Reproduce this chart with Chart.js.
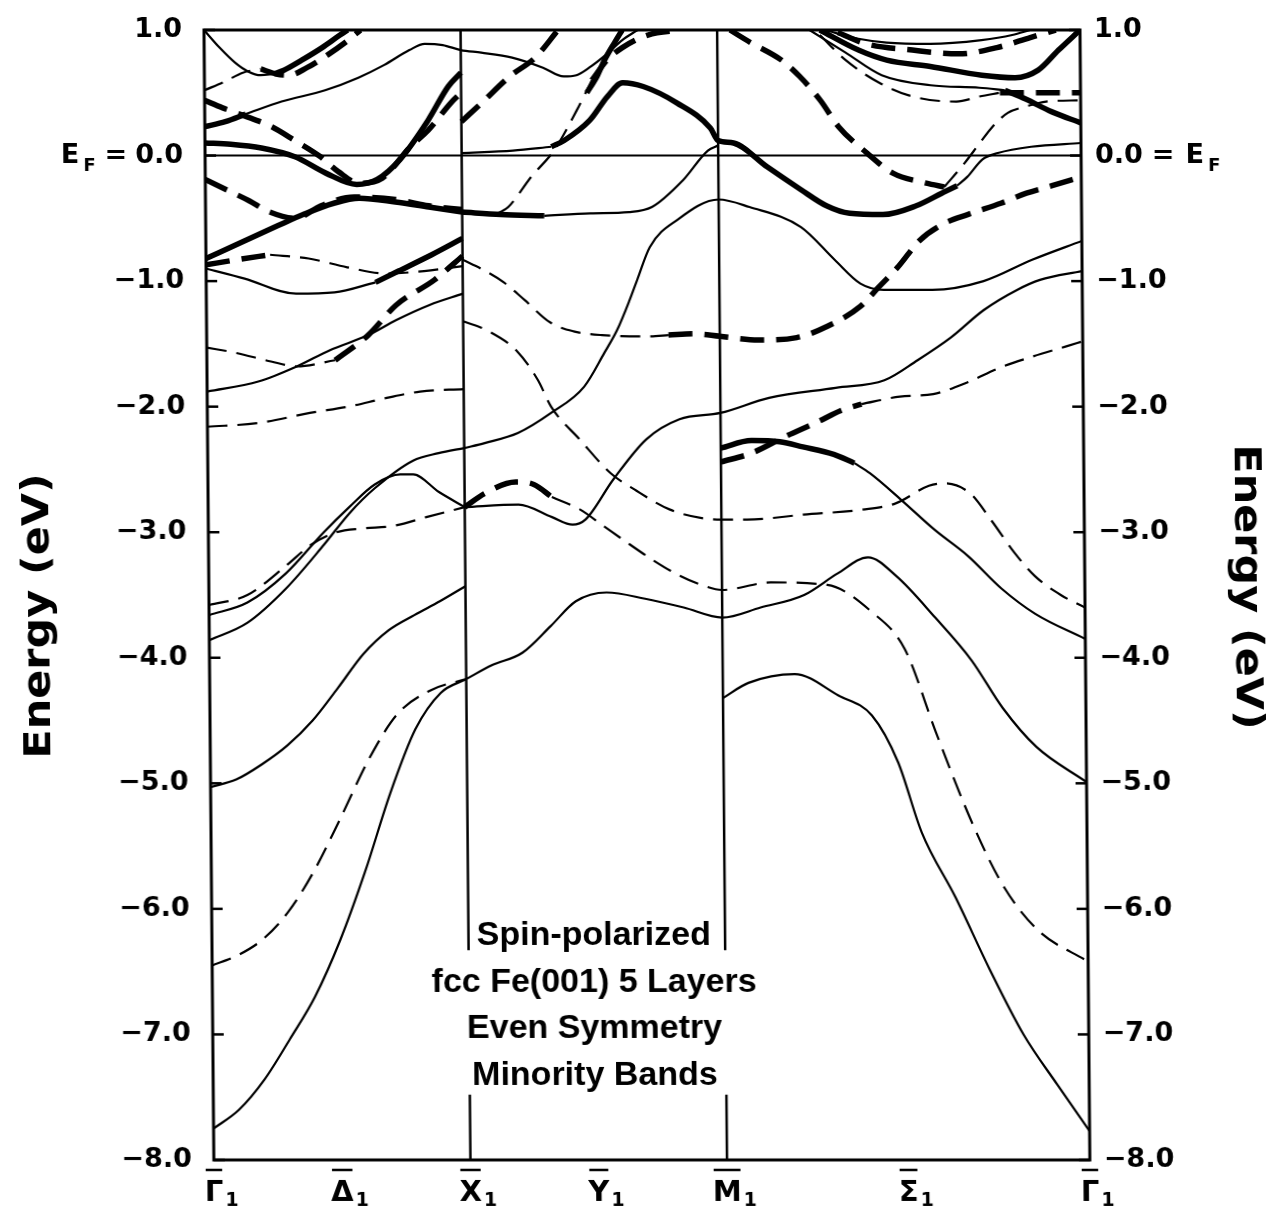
<!DOCTYPE html>
<html lang="en">
<head>
<meta charset="UTF-8">
<title>fcc Fe(001) 5 layers – even symmetry minority bands</title>
<script src="https://cdn.jsdelivr.net/npm/chart.js"></script>
<style>
  html, body { margin:0; padding:0; background:#fff; }
  #wrap { width:1278px; height:1209px; }
  canvas { transform:skewX(0.5deg); transform-origin:50% 50%; }
</style>
</head>
<body>
<div id="wrap"><canvas id="bands" width="1278" height="1209"></canvas></div>
<script>
// k path: Γ (0) -> X (1) -> M (2) -> Γ (2 + √2), energies in eV relative to E_F
const SQ2 = Math.SQRT2;
const kTicks = [0, 0.5, 1, 1.5, 2, 2 + SQ2 / 2, 2 + SQ2];
const kLabels = ['Γ', 'Δ', 'X', 'Y', 'M', 'Σ', 'Γ'];
const eTicks = [1, 0, -1, -2, -3, -4, -5, -6, -7, -8];
const captionLines = ['Spin-polarized', 'fcc Fe(001) 5 Layers', 'Even Symmetry', 'Minority Bands'];

// ---- Γ - X ----
const gxTopSolidA = [[0,1.0],[0.06,0.86],[0.12,0.74],[0.17,0.67],[0.22,0.64],[0.27,0.65]];
const gxTopSolidB = [[0.27,0.65],[0.31,0.68],[0.38,0.76],[0.46,0.86],[0.53,0.96],[0.56,1.0]];
const gxTopDashA = [[0,0.52],[0.08,0.59],[0.15,0.66],[0.22,0.69]];
const gxTopDashB = [[0.22,0.69],[0.28,0.65],[0.33,0.64],[0.4,0.7],[0.48,0.8],[0.55,0.9],[0.61,1.0]];
const gxUpperThick = [[0,0.23],[0.08,0.27],[0.16,0.33]];
const gxUpperThin = [[0.16,0.33],[0.3,0.43],[0.47,0.52],[0.6,0.62],[0.7,0.72],[0.8,0.84],[0.86,0.89],[0.93,0.88],[1,0.84],
  [1.08,0.82],[1.2,0.78],[1.32,0.7],[1.4,0.63],[1.45,0.64],[1.5,0.7],[1.57,0.81],[1.63,0.92],[1.69,1.0]];
const gxFermiSolid = [[0,0.1],[0.1,0.09],[0.22,0.06],[0.35,-0.01],[0.47,-0.14],[0.59,-0.23],[0.67,-0.19],[0.76,-0.03],[0.87,0.28],[0.95,0.55],[1,0.66]];
const gxFermiDash = [[0,0.44],[0.07,0.38],[0.15,0.32],[0.26,0.23],[0.35,0.12],[0.45,-0.01],[0.52,-0.13],[0.6,-0.22],[0.69,-0.18],[0.8,0.07],[0.87,0.2],[0.96,0.42],[1,0.5]];
const gxDashH = [[0,-0.19],[0.08,-0.27],[0.17,-0.36],[0.25,-0.45],[0.35,-0.5],[0.45,-0.4],[0.58,-0.33],[0.74,-0.35],[0.87,-0.4],[1,-0.43]];
const gxSolidI = [[0,-0.82],[0.15,-0.68],[0.28,-0.56],[0.38,-0.47],[0.5,-0.38],[0.6,-0.34],[0.74,-0.37],[0.87,-0.41],[1,-0.45]];
const gxDashJThick = [[0,-0.87],[0.12,-0.83],[0.25,-0.79]];
const gxDashJThin = [[0.25,-0.79],[0.4,-0.82],[0.55,-0.89],[0.7,-0.94],[0.85,-0.92],[1,-0.88]];
const gxSolidKThin = [[0,-0.9],[0.15,-0.98],[0.35,-1.1],[0.5,-1.09],[0.66,-1.01]];
const gxSolidKThick = [[0.66,-1.01],[0.75,-0.92],[0.88,-0.79],[1,-0.66]];
const gxDashLThin = [[0,-1.53],[0.11,-1.57],[0.25,-1.64],[0.35,-1.68],[0.5,-1.63]];
const gxDashLThick = [[0.5,-1.63],[0.63,-1.43],[0.74,-1.19],[0.89,-0.99],[1,-0.8]];
const gxSolidM = [[0,-1.88],[0.2,-1.8],[0.35,-1.68],[0.48,-1.55],[0.63,-1.43],[0.74,-1.31],[0.87,-1.19],[1,-1.1]];
const gxDashN = [[0,-2.16],[0.2,-2.13],[0.4,-2.05],[0.55,-2.0],[0.7,-1.93],[0.83,-1.88],[1,-1.86]];
const gxSolidO = [[0,-3.86],[0.15,-3.72],[0.3,-3.45],[0.45,-3.1],[0.55,-2.85],[0.65,-2.65],[0.8,-2.43],[0.9,-2.37],[1,-2.33]];
const gxSolidQ = [[0,-3.66],[0.15,-3.56],[0.3,-3.33],[0.45,-3.0],[0.55,-2.8],[0.65,-2.62],[0.75,-2.54],[0.8,-2.54],[0.9,-2.68],[1,-2.8]];
const gxDashP = [[0,-3.58],[0.15,-3.5],[0.3,-3.27],[0.4,-3.1],[0.5,-3.0],[0.6,-2.97],[0.72,-2.95],[0.85,-2.88],[1,-2.8]];
const gxSolid5 = [[0,-5.03],[0.1,-4.97],[0.2,-4.85],[0.3,-4.7],[0.4,-4.5],[0.5,-4.24],[0.6,-3.97],[0.7,-3.78],[0.8,-3.66],[0.9,-3.55],[1,-3.43]];
const gxDash6 = [[0,-6.45],[0.1,-6.37],[0.2,-6.24],[0.3,-6.02],[0.4,-5.7],[0.5,-5.3],[0.62,-4.8],[0.73,-4.45],[0.86,-4.26],[1,-4.17]];
const gxSolid8 = [[0,-7.75],[0.1,-7.6],[0.2,-7.36],[0.3,-7.04],[0.4,-6.7],[0.5,-6.25],[0.6,-5.7],[0.7,-5.08],[0.8,-4.57],[0.9,-4.28],[1,-4.17]];

// ---- X - M (several continue on to Γ) ----
const xmSolidLow = [[1,-4.17],[1.1,-4.06],[1.22,-3.96],[1.33,-3.75],[1.43,-3.55],[1.55,-3.48],[1.7,-3.53],[1.85,-3.6],[2,-3.68],
  [2.15,-3.6],[2.32,-3.5],[2.45,-3.33],[2.57,-3.2],[2.68,-3.35],[2.83,-3.68],[2.97,-4.02],[3.09,-4.4],[3.22,-4.71],[2 + SQ2,-4.99]];
const xmDashLowThick = [[1,-2.8],[1.08,-2.69],[1.2,-2.6],[1.27,-2.62],[1.34,-2.72]];
const xmDashLowThin = [[1.34,-2.72],[1.45,-2.82],[1.54,-2.95],[1.63,-3.08],[1.73,-3.22],[1.82,-3.33],[1.92,-3.42],[2,-3.46],
  [2.19,-3.4],[2.41,-3.42],[2.58,-3.63],[2.71,-3.93],[2.83,-4.6],[2.97,-5.33],[3.09,-5.83],[3.22,-6.17],[2 + SQ2,-6.42]];
const xmDashMid = [[1,-1.32],[1.1,-1.4],[1.21,-1.56],[1.29,-1.79],[1.34,-2.0],[1.45,-2.26],[1.57,-2.53],[1.67,-2.67],[1.8,-2.82],[1.93,-2.89],[2,-2.9],
  [2.1,-2.9],[2.32,-2.86],[2.55,-2.82],[2.68,-2.77],[2.81,-2.63],[2.87,-2.61],[2.97,-2.69],[3.05,-2.9],[3.14,-3.16],[3.22,-3.35],[3.32,-3.5],[2 + SQ2,-3.6]];
const xmDashUpThin = [[1,-0.83],[1.08,-0.91],[1.16,-1.01],[1.24,-1.15],[1.34,-1.33],[1.43,-1.4],[1.54,-1.43],[1.73,-1.44],[1.8,-1.43]];
const xmDashUpThick = [[1.8,-1.43],[1.9,-1.42],[2,-1.44],[2.15,-1.47],[2.3,-1.45],[2.42,-1.36],[2.55,-1.2],[2.62,-1.05],[2.7,-0.88],
  [2.78,-0.68],[2.87,-0.55],[2.97,-0.47],[3.1,-0.38],[3.2,-0.3],[3.3,-0.24],[2 + SQ2,-0.17]];
const xmSolidRise = [[1,-2.33],[1.08,-2.29],[1.21,-2.21],[1.34,-2.05],[1.47,-1.84],[1.55,-1.57],[1.6,-1.39],[1.65,-1.15],[1.68,-0.99],[1.73,-0.73],[1.84,-0.51],[2,-0.35],
  [2.12,-0.41],[2.32,-0.57],[2.45,-0.83],[2.55,-1.02],[2.64,-1.07],[2.83,-1.07],[3.03,-1.0],[3.22,-0.83],[2 + SQ2,-0.68]];
const xmSolidDip = [[1,-2.8],[1.21,-2.78],[1.34,-2.88],[1.42,-2.94],[1.47,-2.9],[1.58,-2.58],[1.71,-2.26],[1.84,-2.1],[2,-2.05],
  [2.19,-1.93],[2.45,-1.85],[2.64,-1.79],[2.77,-1.63],[2.9,-1.45],[3.03,-1.23],[3.16,-1.07],[3.25,-0.99],[2 + SQ2,-0.92]];
const xmFlatThick = [[1,-0.45],[1.15,-0.47],[1.32,-0.48]];
const xmFlatThin = [[1.32,-0.48],[1.5,-0.46],[1.65,-0.45],[1.74,-0.41],[1.86,-0.2],[1.96,0.04],[2,0.08]];
const xmFermiThin = [[1,0.02],[1.2,0.04],[1.35,0.07]];
const xmFermiThick = [[1.35,0.07],[1.4,0.12],[1.5,0.28],[1.57,0.47],[1.63,0.58],[1.71,0.55],[1.84,0.42],[1.97,0.22],[2,0.12],
  [2.06,0.1],[2.19,-0.09],[2.32,-0.27],[2.42,-0.4],[2.51,-0.46],[2.64,-0.47],[2.77,-0.4],[2.87,-0.3],[2.93,-0.24]];
const mgFermiThin = [[2.93,-0.24],[2.97,-0.17],[3.03,-0.03],[3.09,0.02],[3.22,0.07],[2 + SQ2,0.1]];
const xmRiseDashThin = [[1.14,-0.46],[1.18,-0.41],[1.27,-0.17],[1.36,0.04],[1.45,0.36],[1.51,0.6]];
const xmRiseDashThick = [[1.51,0.6],[1.57,0.76],[1.63,0.86],[1.73,0.96],[1.86,1.0]];
const xmTopSolid = [[1.49,0.5],[1.53,0.63],[1.56,0.76],[1.6,0.9],[1.63,1.0]];
const xmTopDash = [[1,0.27],[1.08,0.42],[1.19,0.63],[1.29,0.78],[1.38,1.0]];

// ---- M - Γ ----
const mgSolidLow = [[2,-4.32],[2.1,-4.2],[2.28,-4.13],[2.45,-4.3],[2.58,-4.46],[2.68,-4.83],[2.77,-5.39],[2.9,-5.91],[3.03,-6.48],[3.16,-7.0],[3.29,-7.4],[2 + SQ2,-7.77]];
const mgSolidPeakThick = [[2,-2.33],[2.12,-2.27],[2.23,-2.28],[2.32,-2.32],[2.44,-2.38],[2.52,-2.45]];
const mgSolidPeakThin = [[2.52,-2.45],[2.58,-2.53],[2.7,-2.74],[2.83,-2.98],[2.96,-3.19],[3.09,-3.45],[3.22,-3.65],[2 + SQ2,-3.85]];
const mgDashRiseThick = [[2,-2.44],[2.12,-2.37],[2.25,-2.24],[2.38,-2.12],[2.47,-2.03],[2.55,-1.98]];
const mgDashRiseThin = [[2.55,-1.98],[2.7,-1.92],[2.83,-1.9],[2.96,-1.81],[3.09,-1.69],[3.22,-1.6],[3.35,-1.52],[2 + SQ2,-1.48]];
const mgDashVThick = [[2.05,1.0],[2.13,0.9],[2.25,0.76],[2.32,0.63],[2.4,0.44],[2.47,0.23],[2.58,0.02],[2.68,-0.14],[2.81,-0.22],[2.88,-0.25]];
const mgDashVThin = [[2.88,-0.25],[2.96,-0.06],[3.02,0.1],[3.07,0.23],[3.13,0.34],[3.2,0.39],[3.28,0.43],[2 + SQ2,0.44]];
const mgTopSolid1 = [[2.42,1.0],[2.55,0.93],[2.66,0.9],[2.83,0.89],[3.03,0.92],[3.15,0.96],[3.22,1.0]];
const mgTopDash2 = [[2.47,0.98],[2.58,0.89],[2.76,0.84],[2.94,0.81],[3.09,0.86],[3.22,0.94],[3.32,1.0]];
const mgTopSolid3 = [[2.4,1.0],[2.55,0.84],[2.66,0.76],[2.83,0.71],[3.03,0.64],[3.16,0.62],[3.25,0.68],[3.33,0.84],[2 + SQ2,1.0]];
const mgTopSolid4Thin = [[2.36,1.0],[2.5,0.82],[2.64,0.64],[2.83,0.56],[3.02,0.54],[3.12,0.52]];
const mgTopSolid4Thick = [[3.12,0.52],[3.2,0.45],[3.3,0.35],[2 + SQ2,0.26]];
const mgTopDash5Thin = [[2.4,0.96],[2.5,0.76],[2.63,0.58],[2.76,0.47],[2.93,0.43],[3.02,0.47],[3.1,0.5]];
const mgTopDash5Thick = [[3.1,0.5],[3.25,0.5],[2 + SQ2,0.5]];

// line style of each band piece: s = solid, d = dashed; thick pieces marked with w
const pieces = [
  [gxTopSolidA,'s'],[gxTopSolidB,'sw'],[gxTopDashA,'d'],[gxTopDashB,'dw'],
  [gxUpperThick,'sw'],[gxUpperThin,'s'],[gxFermiSolid,'sw'],[gxFermiDash,'dw'],
  [gxDashH,'dw'],[gxSolidI,'sw'],[gxDashJThick,'dw'],[gxDashJThin,'d'],
  [gxSolidKThin,'s'],[gxSolidKThick,'sw'],[gxDashLThin,'d'],[gxDashLThick,'dw'],
  [gxSolidM,'s'],[gxDashN,'d'],[gxSolidO,'s'],[gxSolidQ,'s'],[gxDashP,'d'],
  [gxSolid5,'s'],[gxDash6,'d'],[gxSolid8,'s'],
  [xmSolidLow,'s'],[xmDashLowThick,'dw'],[xmDashLowThin,'d'],[xmDashMid,'d'],
  [xmDashUpThin,'d'],[xmDashUpThick,'dw'],[xmSolidRise,'s'],[xmSolidDip,'s'],
  [xmFlatThick,'sw'],[xmFlatThin,'s'],[xmFermiThin,'s'],[xmFermiThick,'sw'],[mgFermiThin,'s'],
  [xmRiseDashThin,'d'],[xmRiseDashThick,'dw'],[xmTopSolid,'sw'],[xmTopDash,'dw'],
  [mgSolidLow,'s'],[mgSolidPeakThick,'sw'],[mgSolidPeakThin,'s'],
  [mgDashRiseThick,'dw'],[mgDashRiseThin,'d'],[mgDashVThick,'dw'],[mgDashVThin,'d'],
  [mgTopSolid1,'s'],[mgTopDash2,'dw'],[mgTopSolid3,'sw'],
  [mgTopSolid4Thin,'s'],[mgTopSolid4Thick,'sw'],[mgTopDash5Thin,'d'],[mgTopDash5Thick,'dw']
];

const datasets = pieces.map(([pts, style]) => {
  const thick = style.includes('w');
  const dashed = style.startsWith('d');
  return {
    data: pts.map(([k, e]) => ({ x: k, y: e })),
    showLine: true,
    borderColor: '#000',
    borderWidth: thick ? 5.5 : 2.2,
    borderDash: dashed ? (thick ? [24, 12] : [20, 10]) : [],
    borderCapStyle: 'butt',
    cubicInterpolationMode: 'monotone',
    pointRadius: 0,
    fill: false
  };
});

const TICK_FONT = 'bold 27px "DejaVu Sans"';
const SUB_FONT = 'bold 18px "DejaVu Sans"';

function seg(ctx, x1, y1, x2, y2) {
  ctx.beginPath(); ctx.moveTo(x1, y1); ctx.lineTo(x2, y2); ctx.stroke();
}

// E_F with subscript F, anchored at its right edge (align 'right') or left edge
function drawEF(ctx, x, y, align) {
  ctx.font = TICK_FONT;
  const wE = ctx.measureText('E').width;
  ctx.font = SUB_FONT;
  const wF = ctx.measureText('F').width;
  const left = align === 'right' ? x - wE - wF - 4 : x;
  ctx.textAlign = 'left';
  ctx.font = TICK_FONT;
  ctx.fillText('E', left, y);
  ctx.font = SUB_FONT;
  ctx.fillText('F', left + wE + 4, y + 11);
}

function axisTitle(ctx, cx, cy, angle) {
  ctx.save();
  ctx.translate(cx, cy);
  ctx.rotate(angle);
  ctx.scale(1.16, 1);
  ctx.font = 'bold 37px "DejaVu Sans"';
  ctx.textAlign = 'center';
  ctx.textBaseline = 'middle';
  ctx.fillText('Energy (eV)', 0, 0);
  ctx.restore();
}

const decor = {
  id: 'decor',
  beforeDatasetsDraw(chart) {
    const { ctx, chartArea: a, scales: { x, y } } = chart;
    ctx.save();
    ctx.strokeStyle = '#000';
    ctx.lineWidth = 2;
    const y0 = y.getPixelForValue(0);
    seg(ctx, a.left, y0, a.right, y0);
    // X and M verticals, interrupted by the caption
    const gapTop = y.getPixelForValue(-6.33), gapBot = y.getPixelForValue(-7.48);
    ctx.lineWidth = 2.5;
    [1, 2].forEach(k => {
      const px = x.getPixelForValue(k);
      seg(ctx, px, a.top, px, gapTop);
      seg(ctx, px, gapBot, px, a.bottom);
    });
    ctx.restore();
  },
  afterDatasetsDraw(chart) {
    const { ctx, chartArea: a, scales: { x, y } } = chart;
    ctx.save();
    ctx.strokeStyle = '#000';
    ctx.fillStyle = '#000';
    ctx.lineWidth = 3;
    ctx.strokeRect(a.left, a.top, a.right - a.left, a.bottom - a.top);

    // inward tick marks and energy labels on both sides
    ctx.lineWidth = 2.5;
    ctx.textBaseline = 'middle';
    eTicks.forEach(e => {
      const py = y.getPixelForValue(e);
      seg(ctx, a.left, py, a.left + 11, py);
      seg(ctx, a.right - 11, py, a.right, py);
      const txt = (e < 0 ? '\u2212' + Math.abs(e).toFixed(1) : e.toFixed(1));
      ctx.font = TICK_FONT;
      ctx.textAlign = 'right';
      ctx.fillText(txt, a.left - 22, py);
      ctx.textAlign = 'left';
      ctx.fillText(txt, a.right + 14, py);
      if (e === 0) {
        const w = ctx.measureText(txt).width;
        ctx.textAlign = 'right';
        ctx.fillText('=', a.left - 22 - w - 8, py);
        const wEq = ctx.measureText('=').width;
        drawEF(ctx, a.left - 22 - w - 8 - wEq - 9, py, 'right');
        ctx.textAlign = 'left';
        ctx.font = TICK_FONT;
        ctx.fillText('=', a.right + 14 + w + 9, py);
        drawEF(ctx, a.right + 14 + w + 9 + wEq + 11, py, 'left');
      }
    });

    // symmetry point labels with overbar and subscript 1
    ctx.textBaseline = 'alphabetic';
    kTicks.forEach((k, i) => {
      const px = x.getPixelForValue(k);
      ctx.font = 'bold 29px "DejaVu Sans"';
      const w = ctx.measureText(kLabels[i]).width;
      ctx.textAlign = 'center';
      ctx.fillText(kLabels[i], px, 1201);
      ctx.lineWidth = 2.5;
      seg(ctx, px - w / 2 + 1, 1170, px + w / 2 - 1, 1170);
      ctx.font = 'bold 19px "DejaVu Sans"';
      ctx.textAlign = 'left';
      ctx.fillText('1', px + w / 2 + 2, 1206);
    });

    // caption between X and M
    ctx.font = 'bold 34px "Liberation Sans"';
    ctx.textAlign = 'center';
    const cx = x.getPixelForValue(1.5) - 3;
    captionLines.forEach((t, i) => ctx.fillText(t, cx, 945 + i * 46.5));

    axisTitle(ctx, 39, 616, -Math.PI / 2);
    axisTitle(ctx, 1246, 587, Math.PI / 2);
    ctx.restore();
  }
};

const hiddenAxis = { ticks: { display: false }, grid: { display: false }, border: { display: false } };

new Chart(document.getElementById('bands'), {
  type: 'scatter',
  data: { datasets },
  options: {
    responsive: false,
    animation: false,
    events: [],
    layout: { padding: { top: 30, left: 0, right: 0, bottom: 0 } },
    plugins: { legend: { display: false }, tooltip: { enabled: false } },
    scales: {
      x: { type: 'linear', min: 0, max: 2 + SQ2, ...hiddenAxis, afterFit: s => { s.height = 49; } },
      y: { type: 'linear', position: 'left', min: -8, max: 1, ...hiddenAxis, afterFit: s => { s.width = 209; } },
      y2: { type: 'linear', position: 'right', min: -8, max: 1, ...hiddenAxis, afterFit: s => { s.width = 193; } }
    }
  },
  plugins: [decor]
});
</script>
</body>
</html>
